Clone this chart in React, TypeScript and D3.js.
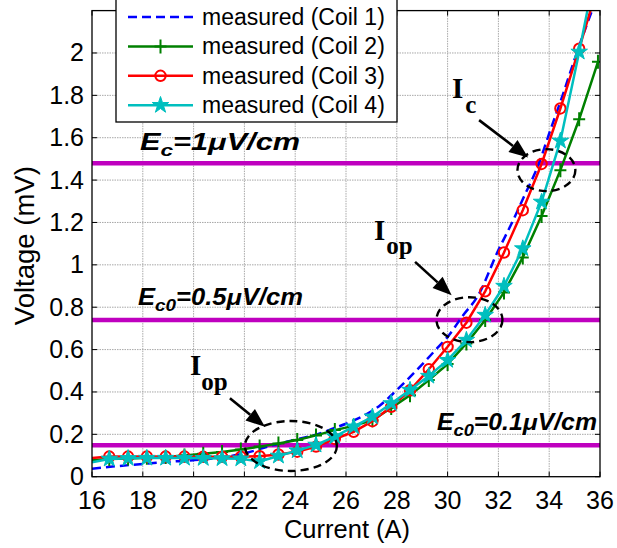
import React from "react";
import * as d3 from "d3";

// Canvas and plot-box geometry
const W = 617;
const H = 548;
const BOX = { left: 92, right: 600, top: 10.6, bottom: 476.7 };

// Axis ticks
const xTicks = [16, 18, 20, 22, 24, 26, 28, 30, 32, 34, 36];
const yTicks = [0, 0.2, 0.4, 0.6, 0.8, 1, 1.2, 1.4, 1.6, 1.8, 2];
const yTickLabels = ["0", "0.2", "0.4", "0.6", "0.8", "1", "1.2", "1.4", "1.6", "1.8", "2"];

// Measurement currents (A) for coils 2-4; first entry is the axis start (no marker)
const coilCurrent = [
  16.0, 16.68, 17.42, 18.16, 18.9, 19.64, 20.38, 21.12, 21.86, 22.6, 23.34, 24.08, 24.82,
  25.56, 26.3, 27.04, 27.78, 28.52, 29.26, 30.0, 30.74, 31.48, 32.22, 32.96, 33.7, 34.44,
  35.18, 35.92,
];

// Coil 1 (dense trace, drawn without markers)
const coil1Current = [
  16, 17, 18, 19, 20, 21, 22, 23, 24, 25, 25.5, 26, 26.7, 27.3, 28, 29, 29.5, 30, 30.6, 31.2,
  32, 32.5, 33, 33.6, 34, 34.5, 35, 35.5, 36,
];
const coil1Voltage = [
  0.038, 0.05, 0.06, 0.07, 0.078, 0.09, 0.11, 0.145, 0.175, 0.205, 0.228, 0.25, 0.288, 0.333,
  0.409, 0.53, 0.595, 0.66, 0.76, 0.855, 1.07, 1.19, 1.32, 1.48, 1.62, 1.79, 1.97, 2.14, 2.3,
];

// Coils 2-4 voltages (mV) at coilCurrent
const coil2Voltage = [
  0.078, 0.083, 0.086, 0.089, 0.093, 0.1, 0.108, 0.117, 0.128, 0.142, 0.157, 0.173, 0.195,
  0.22, 0.24, 0.267, 0.324, 0.385, 0.456, 0.532, 0.629, 0.74, 0.87, 1.035, 1.231, 1.447,
  1.687, 1.958,
];
const coil3Voltage = [
  0.088, 0.095, 0.095, 0.095, 0.095, 0.095, 0.094, 0.094, 0.094, 0.097, 0.105, 0.118, 0.142,
  0.178, 0.212, 0.262, 0.33, 0.408, 0.507, 0.613, 0.727, 0.875, 1.058, 1.258, 1.476, 1.738,
  2.02, 2.32,
];
const coil4Voltage = [
  0.068, 0.084, 0.087, 0.088, 0.088, 0.088, 0.087, 0.086, 0.085, 0.072, 0.098, 0.123, 0.15,
  0.189, 0.236, 0.283, 0.346, 0.409, 0.475, 0.55, 0.645, 0.763, 0.9, 1.077, 1.297, 1.585,
  2.005, 2.45,
];

// Electric-field criteria levels (mV)
const criterionLevels = [1.48, 0.74, 0.148];

const legendLabels = [
  "measured (Coil 1)",
  "measured (Coil 2)",
  "measured (Coil 3)",
  "measured (Coil 4)",
];

const BLUE = "#0000ff";
const GREEN = "#008000";
const RED = "#ff0000";
const CYAN = "#00bfbf";
const MAGENTA = "#bf00bf";
const SANS = "'Liberation Sans', Arial, Helvetica, sans-serif";
const SERIF = "'Liberation Serif', 'Times New Roman', serif";

const x = d3.scaleLinear().domain([16, 36]).range([BOX.left, BOX.right]);
const y = d3.scaleLinear().domain([0, 2.2]).range([BOX.bottom, BOX.top]);

type Marker = "plus" | "circle" | "star";

function MarkerShape({ kind, cx, cy, color }: { kind: Marker; cx: number; cy: number; color: string }) {
  if (kind === "plus") {
    return (
      <path
        d={`M${cx - 6},${cy}H${cx + 6}M${cx},${cy - 7}V${cy + 7}`}
        stroke={color}
        strokeWidth={2}
        fill="none"
      />
    );
  }
  if (kind === "circle") {
    return <circle cx={cx} cy={cy} r={5.2} stroke={color} strokeWidth={2} fill="none" />;
  }
  const star = d3.symbol().type(d3.symbolStar).size(85)();
  return <path d={star || ""} transform={`translate(${cx},${cy})`} fill={color} stroke={color} strokeWidth={1} />;
}

function Arrow({ from, to }: { from: [number, number]; to: [number, number] }) {
  const x1 = x(from[0]);
  const y1 = y(from[1]);
  const x2 = x(to[0]);
  const y2 = y(to[1]);
  const ang = Math.atan2(y2 - y1, x2 - x1);
  const len = 19;
  const half = 7.5;
  const bx = x2 - len * Math.cos(ang);
  const by = y2 - len * Math.sin(ang);
  const px = -Math.sin(ang) * half;
  const py = Math.cos(ang) * half;
  return (
    <g>
      <line x1={x1} y1={y1} x2={bx} y2={by} stroke="#000" strokeWidth={2.6} />
      <path d={`M${x2},${y2}L${bx + px},${by + py}L${bx - px},${by - py}Z`} fill="#000" />
    </g>
  );
}

function DashedEllipse({ cx, cy, rx, ry }: { cx: number; cy: number; rx: number; ry: number }) {
  return (
    <ellipse
      cx={x(cx)}
      cy={y(cy)}
      rx={x(16 + rx) - x(16)}
      ry={y(0) - y(ry)}
      fill="none"
      stroke="#000"
      strokeWidth={2.4}
      strokeDasharray="8,5"
    />
  );
}

function CriterionLabel({ at, sub, value, width }: { at: [number, number]; sub: string; value: string; width: number }) {
  return (
    <text x={x(at[0])} y={y(at[1])} textLength={width} lengthAdjust="spacingAndGlyphs">
      E<tspan fontSize={17} dy={6}>{sub}</tspan>
      <tspan dy={-6}>={value}</tspan>μV/cm
    </text>
  );
}

export default function App() {
  const line = d3
    .line<number>()
    .x((_, i) => x(coilCurrent[i]))
    .y((v) => y(v));
  const coil1Line = d3
    .line<number>()
    .x((_, i) => x(coil1Current[i]))
    .y((v) => y(v))
    .curve(d3.curveMonotoneX);

  const series: { values: number[]; color: string; marker: Marker }[] = [
    { values: coil2Voltage, color: GREEN, marker: "plus" },
    { values: coil3Voltage, color: RED, marker: "circle" },
    { values: coil4Voltage, color: CYAN, marker: "star" },
  ];

  const legendColors = [BLUE, GREEN, RED, CYAN];
  const legendMarkers: (Marker | null)[] = [null, "plus", "circle", "star"];

  return (
    <svg
      width={W}
      height={H}
      viewBox={`0 0 ${W} ${H}`}
      style={{ position: "absolute", left: 0, top: 0, background: "#fff" }}
    >
      <defs>
        <clipPath id="plotClip">
          <rect x={BOX.left} y={BOX.top} width={BOX.right - BOX.left} height={BOX.bottom - BOX.top} />
        </clipPath>
      </defs>
      <rect x={0} y={0} width={W} height={H} fill="#fff" />

      {/* grid */}
      <g stroke="#a8a8a8" strokeWidth={1} strokeDasharray="1.5,1">
        {xTicks.slice(1, -1).map((t) => (
          <line key={`gx${t}`} x1={x(t)} x2={x(t)} y1={BOX.top} y2={BOX.bottom} />
        ))}
        {yTicks.slice(1).map((t) => (
          <line key={`gy${t}`} x1={BOX.left} x2={BOX.right} y1={y(t)} y2={y(t)} />
        ))}
      </g>

      <g clipPath="url(#plotClip)">
        {/* criterion levels */}
        {criterionLevels.map((v) => (
          <line key={`c${v}`} x1={BOX.left} x2={BOX.right} y1={y(v)} y2={y(v)} stroke={MAGENTA} strokeWidth={4.5} />
        ))}

        {/* Coil 1 */}
        <path d={coil1Line(coil1Voltage) || ""} fill="none" stroke={BLUE} strokeWidth={2.5} strokeDasharray="9,5" />

        {/* Coils 2-4 */}
        {series.map((s) => (
          <g key={s.color}>
            <path d={line(s.values) || ""} fill="none" stroke={s.color} strokeWidth={2.5} />
            {s.values.map((v, i) =>
              i === 0 ? null : (
                <MarkerShape key={i} kind={s.marker} cx={x(coilCurrent[i])} cy={y(v)} color={s.color} />
              )
            )}
          </g>
        ))}
      </g>

      {/* axes box and ticks */}
      <rect
        x={BOX.left}
        y={BOX.top}
        width={BOX.right - BOX.left}
        height={BOX.bottom - BOX.top}
        fill="none"
        stroke="#000"
        strokeWidth={1.3}
      />
      <g stroke="#000" strokeWidth={1}>
        {xTicks.map((t) => (
          <g key={`tx${t}`}>
            <line x1={x(t)} x2={x(t)} y1={BOX.bottom} y2={BOX.bottom - 5} />
            <line x1={x(t)} x2={x(t)} y1={BOX.top} y2={BOX.top + 5} />
          </g>
        ))}
        {yTicks.map((t) => (
          <g key={`ty${t}`}>
            <line x1={BOX.left} x2={BOX.left + 5} y1={y(t)} y2={y(t)} />
            <line x1={BOX.right} x2={BOX.right - 5} y1={y(t)} y2={y(t)} />
          </g>
        ))}
      </g>
      <g fontFamily={SANS} fontSize={25} fill="#000">
        {xTicks.map((t) => (
          <text key={`lx${t}`} x={x(t)} y={509} textAnchor="middle">
            {t}
          </text>
        ))}
        {yTicks.map((t, i) => (
          <text key={`ly${t}`} x={84} y={y(t) + 8.5} textAnchor="end">
            {yTickLabels[i]}
          </text>
        ))}
      </g>
      <text x={347} y={538} textAnchor="middle" fontFamily={SANS} fontSize={25.5}>
        Current (A)
      </text>
      <text
        transform={`translate(34,${(BOX.top + BOX.bottom) / 2 + 2}) rotate(-90)`}
        textAnchor="middle"
        fontFamily={SANS}
        fontSize={27.5}
      >
        Voltage (mV)
      </text>

      {/* criterion labels */}
      <g fontFamily={SANS} fontWeight="bold" fontStyle="italic" fontSize={23} fill="#000">
        <CriterionLabel at={[17.89, 1.541]} sub="c" value="1" width={160} />
        <CriterionLabel at={[17.81, 0.81]} sub="c0" value="0.5" width={165} />
        <CriterionLabel at={[29.58, 0.22]} sub="c0" value="0.1" width={160} />
      </g>

      {/* annotations */}
      <DashedEllipse cx={33.89} cy={1.447} rx={1.14} ry={0.099} />
      <DashedEllipse cx={30.86} cy={0.741} rx={1.3} ry={0.106} />
      <DashedEllipse cx={23.83} cy={0.145} rx={1.81} ry={0.118} />
      <Arrow from={[31.24, 1.683]} to={[33.17, 1.507]} />
      <Arrow from={[28.72, 1.014]} to={[30.16, 0.857]} />
      <Arrow from={[21.43, 0.37]} to={[22.81, 0.236]} />
      <g fontFamily={SERIF} fontWeight="bold" fill="#000">
        <text x={x(30.17)} y={y(1.787)} fontSize={29}>
          I<tspan fontSize={25} dx={2} dy={15}>c</tspan>
        </text>
        <text x={x(27.1)} y={y(1.117)} fontSize={29}>
          I<tspan fontSize={25} dx={1} dy={14}>op</tspan>
        </text>
        <text x={x(19.86)} y={y(0.48)} fontSize={29}>
          I<tspan fontSize={25} dx={0} dy={15}>op</tspan>
        </text>
      </g>

      {/* legend */}
      <g>
        <rect x={116} y={-10} width={281} height={132} fill="#fff" stroke="#000" strokeWidth={1.3} />
        {legendLabels.map((label, i) => {
          const ly = 17 + i * 29.4;
          const m = legendMarkers[i];
          return (
            <g key={label}>
              <line
                x1={128}
                x2={193}
                y1={ly}
                y2={ly}
                stroke={legendColors[i]}
                strokeWidth={2.5}
                strokeDasharray={i === 0 ? "9,5" : undefined}
              />
              {m && <MarkerShape kind={m} cx={160.5} cy={ly} color={legendColors[i]} />}
              <text x={202} y={ly + 8} fontFamily={SANS} fontSize={23}>
                {label}
              </text>
            </g>
          );
        })}
      </g>
    </svg>
  );
}
